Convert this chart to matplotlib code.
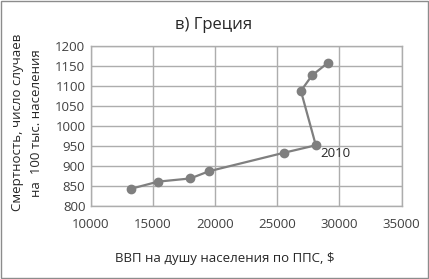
import matplotlib
matplotlib.use("Agg")
import matplotlib.pyplot as plt
from matplotlib.patches import Rectangle

plt.rcParams['font.family'] = ['Open Sans', 'DejaVu Sans']

gdp = [13200, 15400, 18000, 19500, 25500, 28100, 26900, 27800, 29100]
mortality = [842, 860, 868, 886, 932, 951, 1087, 1126, 1158]
label_year = "2010"
label_index = 5

title = "в) Греция"
xlabel = "ВВП на душу населения по ППС, $"
ylabel = "Смертность, число случаев\nна  100 тыс. населения"

fig = plt.figure(figsize=(4.29, 2.79), dpi=100)
ax = fig.add_axes([0.212, 0.263, 0.724, 0.573])

grid_c = '#adadad'
ax.plot(gdp, mortality, color='#7f7f7f', lw=1.6, marker='o', ms=6,
        mfc='#7f7f7f', mec='#7f7f7f', zorder=3)
ax.annotate(label_year, (gdp[label_index], mortality[label_index]),
            xytext=(3, -6), textcoords='offset points', ha='left', va='center',
            fontsize=9.5, color='#262626')

ax.set_xlim(10000, 35000)
ax.set_ylim(800, 1200)
ax.set_xticks(range(10000, 35001, 5000))
ax.set_yticks(range(800, 1201, 50))
ax.grid(True, color=grid_c, lw=1)
ax.set_axisbelow(True)
for s in ax.spines.values():
    s.set_color(grid_c)
    s.set_linewidth(1)
ax.tick_params(length=0, labelsize=9.5, colors='#404040')
ax.tick_params(axis='x', pad=9)
ax.tick_params(axis='y', pad=4)

fig.text(0.497, 0.91, title, ha='center', va='center', fontsize=12, color='#262626')
fig.text(0.525, 0.075, xlabel, ha='center', va='center', fontsize=9.5, color='#262626')
fig.text(0.063, 0.56, ylabel, ha='center', va='center', rotation=90,
         fontsize=9.5, color='#262626', linespacing=1.55)

fig.patches.append(Rectangle((0.002, 0.004), 0.995, 0.992, transform=fig.transFigure,
                             fill=False, edgecolor='#8c8c8c', lw=1))

fig.savefig('out.png', dpi=100)
